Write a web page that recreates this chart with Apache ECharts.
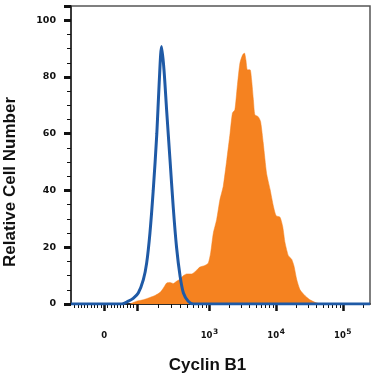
<!DOCTYPE html>
<html>
<head>
<meta charset="utf-8">
<script src="https://cdn.jsdelivr.net/npm/echarts@6/dist/echarts.min.js"></script>
<style>html,body{margin:0;padding:0;background:#fff}#c{width:375px;height:375px}</style>
</head>
<body>
<div id="c"></div>
<script>
// x values are display channels (0-1000) of the biexponential axis
const controlX = [0, 100, 170, 192, 208, 225, 242, 253, 264, 275, 287, 295, 303, 311, 320, 331, 342, 353, 365, 376, 392, 409, 450, 1000];
const controlY = [0, 0, 0, 1, 2, 3.9, 8.6, 14.4, 25, 40, 60, 78, 90.7, 82.5, 68, 51, 34, 20, 9.7, 3.9, 1, 0, 0, 0];

const cyclinX = [197, 220, 242, 264, 281, 298, 309, 320, 331, 342, 353, 365, 376, 387, 404, 420, 431, 448, 459, 467, 476, 487, 498, 509, 521, 532, 540, 548, 556, 565, 574, 580, 585, 590, 599, 604, 610, 615, 626, 634, 643, 654, 666, 677, 686, 699, 708, 716, 727, 738, 746, 755, 766, 783, 799, 816, 833];
const cyclinY = [0, 1, 1.5, 2.3, 3, 4.1, 5.6, 7.4, 7.6, 7.2, 8, 8.8, 10, 10.6, 10.6, 11.9, 13, 13.6, 14.4, 18, 25, 29.7, 36.7, 41.4, 50.8, 60.2, 67.3, 68.4, 76.6, 84.9, 87.8, 88.4, 86, 82.5, 82.5, 79, 72, 66.7, 66, 64.3, 56.7, 46.1, 40.3, 34.4, 31.1, 30.6, 27.3, 21.5, 17, 15.8, 13.3, 8.6, 5, 2.9, 1.5, 0.6, 0];

const xLabelValues = [111, 463, 686, 909];
const xLabelTexts = ['0', '10|3', '10|4', '10|5'];
const xMajorTicks = [111, 220, 463, 686, 909];
const xMinorTicks = [12, 23, 34, 45, 56, 67, 78, 89, 100, 122, 133, 144, 155, 166, 176, 187, 198, 209,
  293, 336, 366, 390, 409, 425, 439, 452,
  530, 569, 597, 619, 637, 651, 664, 676,
  753, 792, 820, 842, 860, 874, 887, 899, 976];
const yTicks = [0, 20, 40, 60, 80, 100];

const zip = (a, b) => a.map((v, i) => [v, b[i]]);
const chart = echarts.init(document.getElementById('c'));
const FONT = 'DejaVu Sans';
chart.setOption({
  animation: false,
  grid: { left: 71, right: 5, top: 6, bottom: 71, show: true, borderColor: '#555', borderWidth: 1.5, backgroundColor: 'transparent', outerBoundsMode: 'none', containLabel: false },
  xAxis: [{
    type: 'value', min: 0, max: 1000,
    name: 'Cyclin B1', nameLocation: 'middle', nameGap: 53,
    nameTextStyle: { fontFamily: 'Liberation Sans', fontWeight: 'bold', fontSize: 17, color: '#111', padding: [0, 26, 0, 0] },
    axisLine: { show: true, onZero: false, lineStyle: { color: '#111', width: 1.5 } },
    axisTick: { show: true, customValues: xMajorTicks, length: 7, lineStyle: { color: '#111', width: 2.5 } },
    axisLabel: {
      show: true, customValues: xLabelValues, margin: 24,
      formatter: function (v) {
        const i = xLabelValues.indexOf(v);
        const t = i >= 0 ? xLabelTexts[i] : '';
        if (t.indexOf('|') < 0) return '{h|0}{b|' + t + '}{h|0}';
        const p = t.split('|');
        return '{b|' + p[0] + '}{s|' + p[1] + '}';
      },
      rich: {
        b: { fontFamily: FONT, fontWeight: 'bold', fontSize: 8.5, color: '#111' },
        s: { fontFamily: FONT, fontWeight: 'bold', fontSize: 7.5, color: '#111', verticalAlign: 'bottom', padding: [0, 0, 7, 0.5] },
        h: { fontFamily: FONT, fontWeight: 'bold', fontSize: 7.5, color: 'rgba(0,0,0,0)', verticalAlign: 'bottom', padding: [0, 0, 7, 0] }
      }
    },
    splitLine: { show: false }
  }, {
    type: 'value', min: 0, max: 1000, position: 'bottom',
    axisLine: { show: false },
    axisTick: { show: true, customValues: xMinorTicks, length: 4, lineStyle: { color: '#111', width: 1 } },
    axisLabel: { show: false },
    splitLine: { show: false }
  }],
  yAxis: {
    type: 'value', min: 0, max: 105, interval: 20,
    name: 'Relative Cell Number', nameLocation: 'middle', nameGap: 52,
    nameTextStyle: { fontFamily: 'Liberation Sans', fontWeight: 'bold', fontSize: 17, color: '#111', padding: [0, 54, 0, 0] },
    axisLine: { show: true, lineStyle: { color: '#222', width: 1.5 } },
    axisTick: { show: true, length: 7, lineStyle: { color: '#111', width: 3 } },
    minorTick: { show: true, splitNumber: 4, length: 4, lineStyle: { color: '#111', width: 1 } },
    axisLabel: {
      margin: 15, fontFamily: FONT, fontWeight: 'bold', fontSize: 9.5, color: '#111',
      customValues: yTicks
    },
    splitLine: { show: false }
  },
  series: [{
    type: 'line', name: 'Cyclin B1', data: zip(cyclinX, cyclinY), xAxisIndex: 0,
    symbol: 'none', smooth: 0.2,
    lineStyle: { width: 0.5, color: '#f58220' },
    areaStyle: { color: '#f58220', opacity: 1 },
    z: 2
  }, {
    type: 'line', name: 'Isotype', data: zip(controlX, controlY), xAxisIndex: 0,
    symbol: 'none', smooth: 0.3,
    lineStyle: { width: 3, color: '#1f5aa6' },
    z: 3
  }]
});
</script>
</body>
</html>
